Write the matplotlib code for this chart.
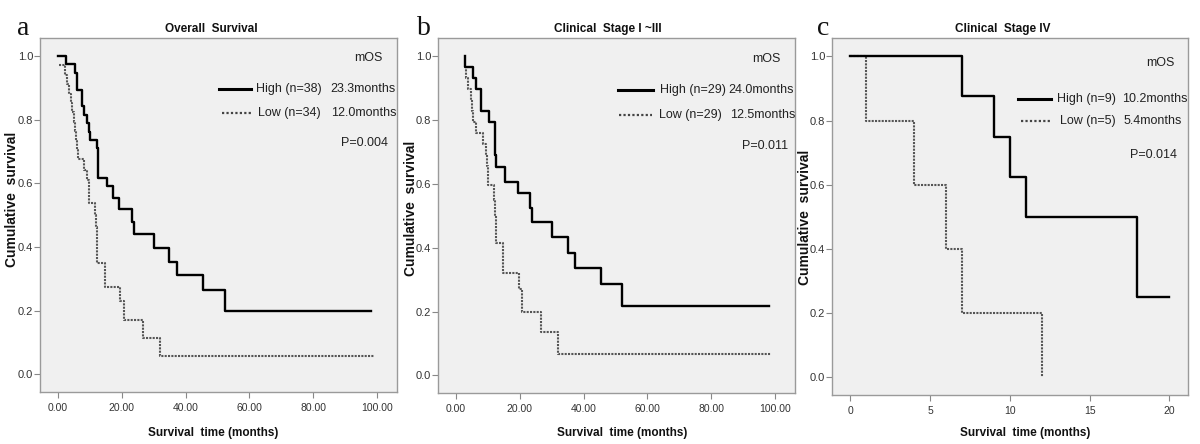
"""
Kaplan-Meier curves: overall survival, stage I-III and stage IV.
"""

import matplotlib
matplotlib.use("Agg")
import matplotlib.pyplot as plt
from matplotlib.lines import Line2D

plt.rcParams['font.family'] = ['Liberation Sans', 'DejaVu Sans']

# panel a - overall survival
a_high_t = [0, 2.4, 5.3, 6.1, 7.6, 8.3, 9.0, 9.6, 10.2, 12.1, 12.6, 15.3, 17.2,
            19.2, 23.1, 23.9, 30.0, 34.9, 37.2, 45.6, 52.3, 98.1]
a_high_s = [1.0, 0.974, 0.947, 0.895, 0.842, 0.816, 0.789, 0.763, 0.737, 0.711,
            0.618, 0.592, 0.553, 0.52, 0.48, 0.44, 0.398, 0.353, 0.311, 0.266,
            0.199, 0.199]
a_low_t = [0.2, 2.2, 2.9, 3.5, 4.0, 4.5, 5.0, 5.4, 5.8, 6.0, 6.2, 8.3, 9.2, 9.8,
           11.6, 12.0, 12.3, 14.6, 19.6, 20.7, 26.6, 32.0, 99.0]
a_low_s = [0.971, 0.941, 0.912, 0.882, 0.853, 0.824, 0.794, 0.765, 0.735, 0.706,
           0.676, 0.641, 0.61, 0.54, 0.5, 0.462, 0.35, 0.274, 0.23, 0.172, 0.115,
           0.058, 0.058]

# panel b - clinical stage I-III
b_high_t = [2.8, 2.8, 5.4, 6.3, 7.9, 10.4, 12.2, 12.4, 12.7, 15.3, 19.3, 23.1,
            23.9, 30.0, 35.0, 37.3, 45.6, 52.0, 98.0]
b_high_s = [1.0, 0.966, 0.931, 0.897, 0.828, 0.793, 0.759, 0.69, 0.652, 0.605,
            0.57, 0.525, 0.48, 0.435, 0.385, 0.337, 0.287, 0.217, 0.217]
b_low_t = [2.8, 3.3, 3.9, 4.6, 5.0, 5.5, 6.4, 8.4, 9.4, 9.8, 10.2, 11.9, 12.2,
           12.5, 14.8, 19.7, 20.8, 26.6, 32.1, 98.6]
b_low_s = [0.966, 0.931, 0.897, 0.862, 0.828, 0.793, 0.759, 0.724, 0.69, 0.655,
           0.598, 0.55, 0.5, 0.414, 0.322, 0.27, 0.2, 0.135, 0.067, 0.067]

# panel c - clinical stage IV
c_high_t = [0, 7, 9, 10, 11, 18, 20]
c_high_s = [1.0, 0.875, 0.75, 0.625, 0.5, 0.25, 0.25]
c_low_t = [0, 1, 4, 6, 7, 12]
c_low_s = [1.0, 0.8, 0.6, 0.4, 0.2, 0.0]

titles = ["Overall  Survival", "Clinical  Stage I ~III", "Clinical  Stage IV"]
letters = ["a", "b", "c"]
high_labels = ["High (n=38)", "High (n=29)", "High (n=9)"]
low_labels = ["Low (n=34)", "Low (n=29)", "Low (n=5)"]
high_mos = ["23.3months", "24.0months", "10.2months"]
low_mos = ["12.0months", "12.5months", "5.4months"]
p_values = ["P=0.004", "P=0.011", "P=0.014"]

W, H = 1200, 444


def fig_xy(x, y):
    return x / W, 1 - y / H


fig = plt.figure(figsize=(W / 100, H / 100), dpi=100)

# axes boxes in pixels: left, top, right, bottom
boxes = [(40, 38, 397, 392), (438, 38, 795, 393), (832, 38, 1188, 395)]
axes = []
for l, t, r, b in boxes:
    ax = fig.add_axes([l / W, 1 - b / H, (r - l) / W, (b - t) / H])
    axes.append(ax)

curves = [(a_high_t, a_high_s, a_low_t, a_low_s),
          (b_high_t, b_high_s, b_low_t, b_low_s),
          (c_high_t, c_high_s, c_low_t, c_low_s)]

for i, ax in enumerate(axes):
    ht, hs, lt, ls = curves[i]
    ax.set_facecolor('#f0f0f0')
    ax.step(lt, ls, where='post', color='#555555', lw=1.5,
            linestyle=(0, (1, 0.6)))
    ax.step(ht, hs, where='post', color='black', lw=1.7)

    ax.set_ylim(-0.055, 1.057)
    ax.set_yticks([0, 0.2, 0.4, 0.6, 0.8, 1.0])
    ax.set_yticklabels(["0.0", "0.2", "0.4", "0.6", "0.8", "1.0"])
    if i < 2:
        ax.set_xlim(-5.6, 106.2)
        ax.set_xticks([0, 20, 40, 60, 80, 100])
        ax.set_xticklabels(["0.00", "20.00", "40.00", "60.00", "80.00", "100.00"])
    else:
        ax.set_xlim(-1.15, 21.17)
        ax.set_xticks([0, 5, 10, 15, 20])
        ax.set_xticklabels(["0", "5", "10", "15", "20"])

    for s in ax.spines.values():
        s.set_color('#9a9a9a')
        s.set_linewidth(1.0)
    ax.tick_params(direction='out', length=4, width=0.8, color='#888888',
                   labelcolor='#333333')
    ax.tick_params(axis='x', labelsize=7.5, pad=4)
    ax.tick_params(axis='y', labelsize=8, pad=1)

# legend / annotation positions (axes fraction)
leg = [
    dict(mos=(0.919, 0.943), hl=(0.501, 0.591, 0.856), ht=0.605, hm=0.812,
         ll=(0.51, 0.591, 0.788), lt=0.61, lm=0.815, p=(0.91, 0.703)),
    dict(mos=(0.919, 0.941), hl=(0.504, 0.602, 0.853), ht=0.622, hm=0.812,
         ll=(0.507, 0.600, 0.782), lt=0.62, lm=0.818, p=(0.916, 0.697)),
    dict(mos=(0.921, 0.93), hl=(0.522, 0.615, 0.829), ht=0.632, hm=0.815,
         ll=(0.53, 0.615, 0.767), lt=0.64, lm=0.82, p=(0.904, 0.672)),
]

for i, ax in enumerate(axes):
    d = leg[i]
    fs = 9
    ax.text(d['mos'][0], d['mos'][1], "mOS", transform=ax.transAxes,
            ha='center', va='center', fontsize=fs, color='#222222')
    x0, x1, y = d['hl']
    ax.add_line(Line2D([x0, x1], [y, y], transform=ax.transAxes,
                       color='black', lw=2.2))
    ax.text(d['ht'], y, high_labels[i], transform=ax.transAxes,
            ha='left', va='center', fontsize=fs, color='#222222')
    ax.text(d['hm'], y, high_mos[i], transform=ax.transAxes,
            ha='left', va='center', fontsize=fs, color='#222222')
    x0, x1, y = d['ll']
    ax.add_line(Line2D([x0, x1], [y, y], transform=ax.transAxes,
                       color='#444444', lw=1.6, linestyle=(0, (1, 1))))
    ax.text(d['lt'], y, low_labels[i], transform=ax.transAxes,
            ha='left', va='center', fontsize=fs, color='#222222')
    ax.text(d['lm'], y, low_mos[i], transform=ax.transAxes,
            ha='left', va='center', fontsize=fs, color='#222222')
    ax.text(d['p'][0], d['p'][1], p_values[i], transform=ax.transAxes,
            ha='center', va='center', fontsize=fs, color='#222222')

# titles, axis labels, panel letters (pixel positions)
title_x = [211, 608, 1003]
xlabel_x = [213, 622, 1025]
ylabel_y = [199, 208, 217]
ylabel_x = [12, 411, 805]
letter_x = [17, 417, 817]
for i in range(3):
    fig.text(*fig_xy(title_x[i], 29), titles[i], ha='center', va='center',
             fontsize=8.5, fontweight='bold', color='#111111')
    fig.text(*fig_xy(xlabel_x[i], 433), "Survival  time (months)",
             ha='center', va='center', fontsize=8.5, fontweight='bold',
             color='#111111')
    fig.text(*fig_xy(ylabel_x[i], ylabel_y[i]), "Cumulative  survival",
             ha='center', va='center', rotation=90, fontsize=10,
             fontweight='bold', color='#111111')
    fig.text(*fig_xy(letter_x[i], 35), letters[i], ha='left', va='baseline',
             fontsize=20, family='Liberation Serif', color='#111111')

fig.savefig("out.png", dpi=100)
